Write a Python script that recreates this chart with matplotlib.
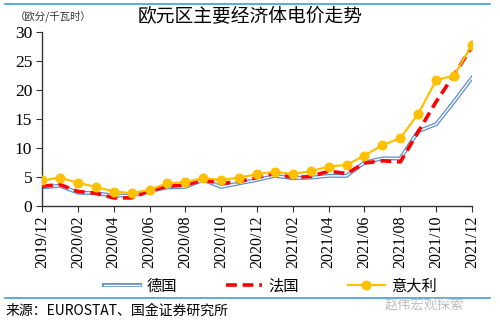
import matplotlib
matplotlib.use("Agg")
import matplotlib.pyplot as plt
from matplotlib.lines import Line2D

plt.rcParams['font.family'] = ['Noto Sans CJK SC', 'DejaVu Sans']

months = ["2019/12", "2020/01", "2020/02", "2020/03", "2020/04", "2020/05", "2020/06",
          "2020/07", "2020/08", "2020/09", "2020/10", "2020/11", "2020/12",
          "2021/01", "2021/02", "2021/03", "2021/04", "2021/05", "2021/06",
          "2021/07", "2021/08", "2021/09", "2021/10", "2021/11", "2021/12"]
germany = [3.2, 3.5, 2.3, 2.2, 1.8, 1.8, 2.6, 3.2, 3.3, 4.5, 3.3, 3.9, 4.5,
           5.2, 4.8, 4.9, 5.2, 5.2, 7.5, 8.2, 8.2, 12.9, 14.1, 18.0, 22.1]
france = [3.4, 3.7, 2.5, 2.2, 1.4, 1.4, 2.6, 3.4, 3.6, 4.5, 3.9, 4.2, 4.9,
          5.6, 4.9, 5.1, 6.0, 5.6, 7.4, 7.8, 7.6, 12.8, 18.0, 22.6, 27.5]
italy = [4.4, 4.9, 4.0, 3.3, 2.5, 2.2, 2.8, 3.9, 4.1, 4.8, 4.5, 4.9, 5.5,
         5.9, 5.5, 6.0, 6.8, 7.1, 8.7, 10.5, 11.7, 15.9, 21.7, 22.5, 27.8]
tick_labels = months[::2]
yticks = [0, 5, 10, 15, 20, 25, 30]

fig = plt.figure(figsize=(5, 3.25), dpi=100)
ax = fig.add_axes([42/500, 1-206/325, 430/500, 174/325])

x = list(range(len(months)))
blue = '#5B8FCB'
red = '#FF0000'
yellow = '#FFC000'

ax.plot(x, germany, color=blue, lw=2.8, solid_joinstyle='miter', zorder=2)
ax.plot(x, germany, color='white', lw=1.0, zorder=2.1)
ax.plot(x, france, color=red, lw=2.6, dashes=(3, 1.6), zorder=3)
ax.plot(x, italy, color=yellow, lw=1.6, marker='o', ms=6.2, zorder=4)

ax.set_xlim(0, 24)
ax.set_ylim(0, 30)
ax.set_yticks(yticks)
ax.set_yticklabels([str(v) for v in yticks], fontfamily='Liberation Serif', fontsize=12.5)
ax.set_xticks(x[::2])
ax.set_xticklabels(tick_labels, rotation=90, fontfamily='Liberation Serif', fontsize=11.5)
for s in ['top', 'right']:
    ax.spines[s].set_visible(False)
for s in ['left', 'bottom']:
    ax.spines[s].set_color('#333333')
    ax.spines[s].set_linewidth(1.0)
ax.tick_params(axis='both', direction='out', length=4, color='#333333', pad=3)

# legend
h_de = (Line2D([], [], color=blue, lw=2.8), Line2D([], [], color='white', lw=1.0))
h_fr = Line2D([], [], color=red, lw=2.6, dashes=(3, 1.6))
h_it = Line2D([], [], color=yellow, lw=1.6, marker='o', ms=6.2)
fig.legend([h_de, h_fr, h_it], ['德国', '法国', '意大利'], loc='center',
           bbox_to_anchor=(0.54, 1-286/325), ncol=3, frameon=False, fontsize=11,
           handlelength=2.4, columnspacing=3.2, handletextpad=0.4)

# title and annotations
fig.text(0.50, 1-17/325, '欧元区主要经济体电价走势', ha='center', va='center', fontsize=13.5)
fig.text(0.03, 1-16/325, '（欧分/千瓦时）', ha='left', va='center', fontsize=7.5, color='#333333')
fig.add_artist(Line2D([0.01, 0.98], [1-4/325, 1-4/325], color='#3AA0D8', lw=1.2, transform=fig.transFigure))
fig.add_artist(Line2D([0.01, 0.98], [1-298/325, 1-298/325], color='#3AA0D8', lw=1.2, transform=fig.transFigure))
fig.text(0.012, 1-311/325, '来源：EUROSTAT、国金证券研究所', ha='left', va='center', fontsize=10)
fig.text(0.77, 1-305/325, '赵伟宏观探索', ha='left', va='center', fontsize=9.5, color='#BBBBBB')

fig.savefig('out.png', dpi=100)
